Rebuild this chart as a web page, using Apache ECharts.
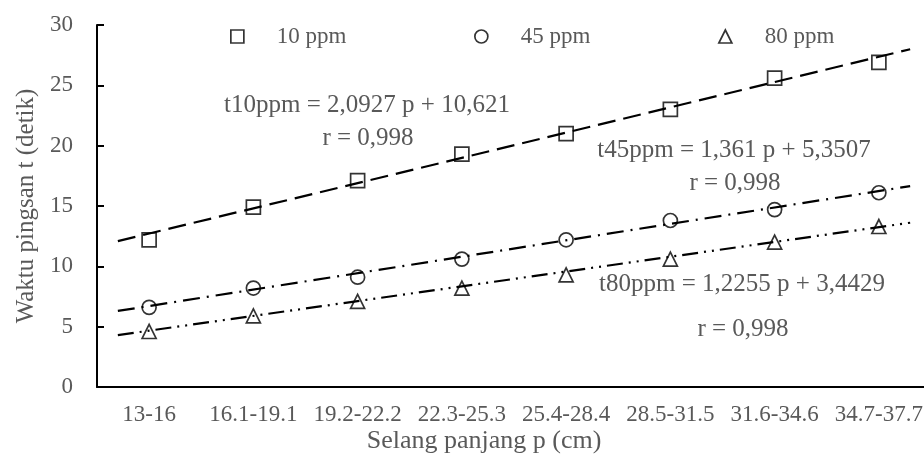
<!DOCTYPE html>
<html>
<head>
<meta charset="utf-8">
<script src="https://cdn.jsdelivr.net/npm/echarts@6/dist/echarts.min.js"></script>
<style>
  html, body { margin: 0; padding: 0; background: #fff; }
  #chart { width: 924px; height: 468px; }
</style>
</head>
<body>
<div id="chart"></div>
<script>
// kategori selang panjang (cm)
const categories = ['13-16', '16.1-19.1', '19.2-22.2', '22.3-25.3', '25.4-28.4', '28.5-31.5', '31.6-34.6', '34.7-37.7']
// waktu pingsan (detik)
const t10ppm = [12.2, 14.9, 17.1, 19.3, 21.0, 23.0, 25.6, 26.9]
const t45ppm = [6.6, 8.2, 9.1, 10.6, 12.2, 13.8, 14.7, 16.1]
const t80ppm = [4.6, 5.9, 7.1, 8.2, 9.3, 10.6, 12.0, 13.3]
const seriesNames = ['10 ppm', '45 ppm', '80 ppm']
// garis tren: t = a * p + b
const trendSlope = [2.0927, 1.361, 1.2255]
const trendIntercept = [10.621, 5.3507, 3.4429]
const trendFrom = 0.7
const trendTo = 8.3
const yTicks = [0, 5, 10, 15, 20, 25, 30]

const fontFamily = '"Liberation Serif", "DejaVu Serif", serif'
const textColor = '#595959'

const chart = echarts.init(document.getElementById('chart'))

const markerStyle = {
  color: 'transparent',
  borderColor: '#000',
  borderWidth: 1.7
}
const symbols = ['rect', 'circle', 'triangle']
const dashes = [
  [18, 8],
  [17, 7, 2, 7],
  [16, 6, 2, 6, 2, 6]
]
const values = [t10ppm, t45ppm, t80ppm]

const scatterSeries = values.map((v, i) => ({
  name: seriesNames[i],
  type: 'scatter',
  xAxisIndex: 0,
  symbol: symbols[i],
  symbolSize: 14,
  itemStyle: markerStyle,
  z: 3,
  data: v
}))

const trendSeries = trendSlope.map((a, i) => ({
  type: 'line',
  xAxisIndex: 1,
  symbol: 'none',
  silent: true,
  lineStyle: { color: '#000', width: 2.2, type: dashes[i] },
  z: 2,
  data: [
    [trendFrom, a * trendFrom + trendIntercept[i]],
    [trendTo, a * trendTo + trendIntercept[i]]
  ]
}))

// legend tiap seri ditaruh sendiri-sendiri
const legendLeft = [225, 469, 713]
const legends = seriesNames.map((name, i) => ({
  data: [{ name: name, icon: symbols[i] }],
  left: legendLeft[i],
  top: 20,
  itemWidth: 13,
  itemHeight: 13,
  itemStyle: markerStyle,
  textStyle: {
    fontFamily: fontFamily,
    fontSize: 23,
    color: textColor,
    padding: [0, 0, 0, 28]
  }
}))

// teks persamaan regresi
const annotations = [
  { text: 't10ppm = 2,0927 p + 10,621', x: 367, y: 105 },
  { text: 'r = 0,998', x: 368, y: 138 },
  { text: 't45ppm = 1,361 p + 5,3507', x: 734, y: 150 },
  { text: 'r = 0,998', x: 735, y: 183 },
  { text: 't80ppm = 1,2255 p + 3,4429', x: 742, y: 284 },
  { text: 'r = 0,998', x: 743, y: 329 }
]

const option = {
  animation: false,
  backgroundColor: '#fff',
  grid: {
    left: 97,
    top: 25,
    right: -7,
    bottom: 81,
    containLabel: false,
    outerBoundsMode: 'none'
  },
  legend: legends,
  xAxis: [
    {
      type: 'category',
      data: categories,
      boundaryGap: true,
      axisLine: { lineStyle: { color: '#000', width: 2 } },
      axisTick: { inside: true, length: 7, lineStyle: { color: '#000', width: 2 } },
      axisLabel: {
        interval: 0,
        margin: 16,
        hideOverlap: false,
        fontFamily: fontFamily,
        fontSize: 23,
        color: textColor
      },
      splitLine: { show: false }
    },
    {
      type: 'value',
      min: 0.5,
      max: 8.5,
      show: false
    }
  ],
  yAxis: {
    type: 'value',
    min: yTicks[0],
    max: yTicks[yTicks.length - 1],
    interval: 5,
    name: 'Waktu pingsan t (detik)',
    nameLocation: 'middle',
    nameGap: 58,
    nameTextStyle: { fontFamily: fontFamily, fontSize: 25, color: textColor },
    axisLine: { show: true, lineStyle: { color: '#000', width: 2 } },
    axisTick: { show: true, inside: true, length: 7, lineStyle: { color: '#000', width: 2 } },
    axisLabel: {
      margin: 24,
      fontFamily: fontFamily,
      fontSize: 23,
      color: textColor
    },
    splitLine: { show: false }
  },
  graphic: annotations.map(a => ({
    type: 'text',
    x: a.x,
    y: a.y,
    style: {
      text: a.text,
      fontFamily: fontFamily,
      fontSize: 25,
      fill: textColor,
      textAlign: 'center',
      textVerticalAlign: 'middle'
    }
  })).concat([{
    type: 'text',
    x: 484,
    y: 441,
    style: {
      text: 'Selang panjang p (cm)',
      fontFamily: fontFamily,
      fontSize: 26,
      fill: textColor,
      textAlign: 'center',
      textVerticalAlign: 'middle'
    }
  }]),
  series: trendSeries.concat(scatterSeries)
}

chart.setOption(option)
</script>
</body>
</html>
